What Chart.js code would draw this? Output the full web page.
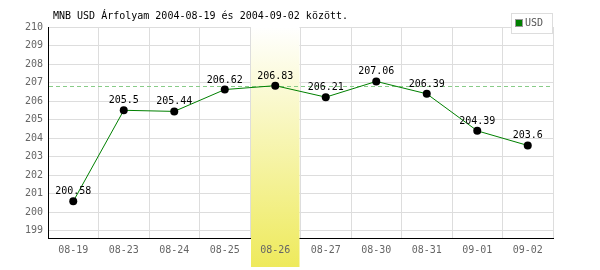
<!DOCTYPE html>
<html>
<head>
<meta charset="utf-8">
<script src="https://cdn.jsdelivr.net/npm/chart.js@4"></script>
<style>
body{margin:0;background:#fff;}
#wrap{width:600px;height:270px;}
</style>
</head>
<body>
<div id="wrap"><canvas id="myChart" width="600" height="270"></canvas></div>
<script>
// napi arfolyamok
const dateLabels = ["08-19","08-23","08-24","08-25","08-26","08-27","08-30","08-31","09-01","09-02"];
const usdRates = [200.58,205.5,205.44,206.62,206.83,206.21,207.06,206.39,204.39,203.6];
const yTicks = [199,200,201,202,203,204,205,206,207,208,209,210];
const highlightIndex = 4;
const titleText = "MNB USD Árfolyam 2004-08-19 és 2004-09-02 között.";
const seriesName = "USD";

const mono = "'DejaVu Sans Mono', monospace";

const extras = {
  id: "extras",
  beforeDraw(chart){
    const c = chart.ctx;
    c.save();
    c.fillStyle = "#fff";
    c.fillRect(0,0,chart.width,chart.height);
    c.restore();
  },
  beforeDatasetsDraw(chart){
    const c = chart.ctx;
    const x = chart.scales.x, y = chart.scales.y;
    const area = chart.chartArea;
    // kiemelt nap savja
    const w = (x.getPixelForValue(1) - x.getPixelForValue(0));
    const cx = x.getPixelForValue(highlightIndex);
    const left = cx - w/2 + 1, right = cx + w/2 - 1;
    const grad = c.createLinearGradient(0, area.top, 0, 267);
    grad.addColorStop(0, "#ffffff");
    grad.addColorStop(1, "#eeea5c");
    c.save();
    c.fillStyle = grad;
    c.fillRect(left, area.top, right-left, 267-area.top);
    // szaggatott vonal a kiemelt ertekhez
    const yy = Math.round(y.getPixelForValue(usdRates[highlightIndex])) + 0.5;
    c.strokeStyle = "#88cc88";
    c.lineWidth = 1;
    c.setLineDash([4,3]);
    c.beginPath();
    c.moveTo(area.left+1, yy);
    c.lineTo(area.right, yy);
    c.stroke();
    c.restore();
  },
  afterDatasetsDraw(chart){
    const c = chart.ctx;
    const meta = chart.getDatasetMeta(0);
    c.save();
    c.font = "10px " + mono;
    c.fillStyle = "#000";
    c.textAlign = "center";
    c.textBaseline = "alphabetic";
    meta.data.forEach(function(pt, i){
      c.fillText(String(usdRates[i]), pt.x, pt.y - 7);
    });
    c.restore();
  },
  afterDraw(chart){
    const c = chart.ctx;
    c.save();
    // cim
    c.font = "10px " + mono;
    c.fillStyle = "#000";
    c.textBaseline = "middle";
    c.textAlign = "left";
    c.fillText(titleText, 53, 16);
    // jelmagyarazat
    c.fillStyle = "#fff";
    c.fillRect(511.5, 13.5, 41, 20);
    c.strokeStyle = "#dddddd";
    c.lineWidth = 1;
    c.strokeRect(511.5, 13.5, 41, 20);
    c.fillStyle = "#008000";
    c.fillRect(516, 20, 6, 6);
    c.strokeStyle = "#999";
    c.strokeRect(515.5, 19.5, 7, 7);
    c.fillStyle = "#555";
    c.fillText(seriesName, 525, 23.5);
    c.restore();
  }
};

var ctx = document.getElementById("myChart").getContext("2d");
let myChart = new Chart(ctx, {
  type: "line",
  data: {
    labels: dateLabels,
    datasets: [{
      label: seriesName,
      data: usdRates,
      borderColor: "#008000",
      borderWidth: 1,
      tension: 0,
      pointRadius: 4,
      pointBackgroundColor: "#000",
      pointBorderColor: "#000",
      pointBorderWidth: 0,
      fill: false
    }]
  },
  options: {
    responsive: false,
    animation: false,
    layout: {padding: {top: 27, right: 47, left: 0, bottom: 0}},
    plugins: {legend: {display: false}, title: {display: false}, tooltip: {enabled: false}},
    scales: {
      x: {
        offset: true,
        grid: {offset: true, color: "#dddddd", drawTicks: false, z: 0},
        border: {color: "#000", width: 1},
        ticks: {color: "#666", font: {family: mono, size: 10}, padding: 6, z: 1, maxRotation: 0},
        afterFit(axis){ axis.height = 32; }
      },
      y: {
        min: 198.6,
        max: 210,
        grid: {color: "#dddddd", drawTicks: false, z: 0},
        border: {color: "#000", width: 1},
        ticks: {color: "#666", font: {family: mono, size: 10}, padding: 5, z: 1},
        afterBuildTicks(axis){ axis.ticks = yTicks.map(v => ({value: v})); },
        afterFit(axis){ axis.width = 48; }
      }
    }
  },
  plugins: [extras]
});
</script>
</body>
</html>
